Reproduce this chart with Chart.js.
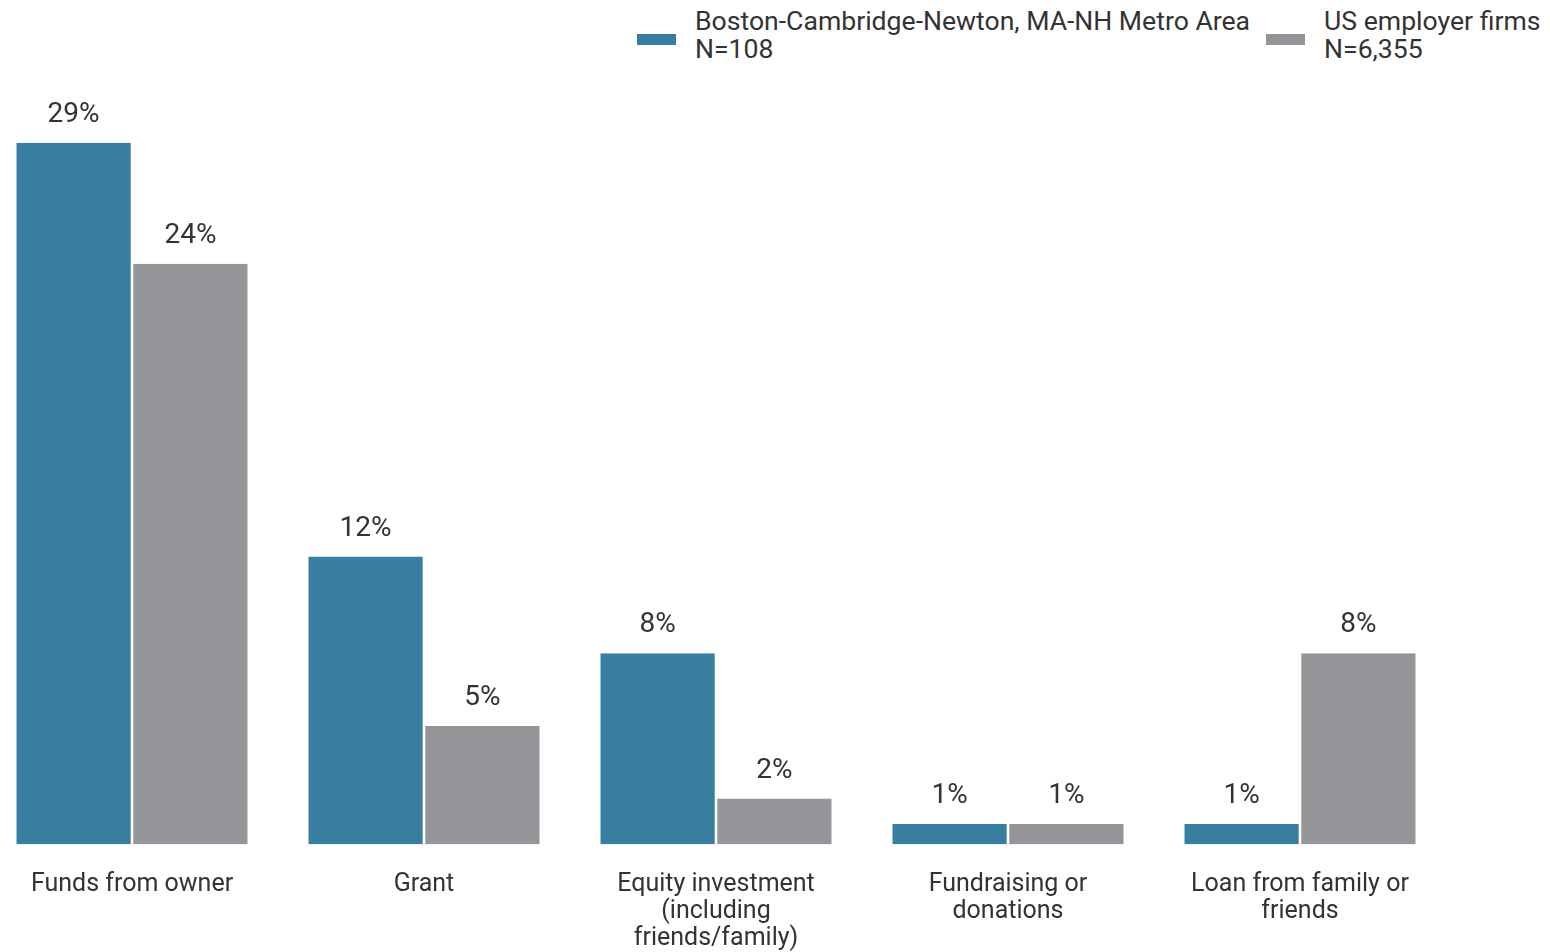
<!DOCTYPE html>
<html>
<head>
<meta charset="utf-8">
<script src="https://cdn.jsdelivr.net/npm/chart.js@4.4.1/dist/chart.umd.min.js"></script>
<style>
    html, body { margin: 0; padding: 0; background: #fff; overflow: hidden; }
    body { width: 1550px; height: 952px; position: relative; font-family: Roboto, sans-serif; color: #333; }
    #chart-wrap { position: absolute; left: -14px; top: 0; width: 1564px; height: 982px; }
    #legend { position: absolute; top: 7px; left: 637px; display: flex; font-size: 26.6px; line-height: 28px; white-space: nowrap; }
    .legend-item { display: flex; align-items: center; margin-right: 16px; }
    .legend-swatch { width: 39px; height: 11px; margin-right: 19px; margin-top: 8px; }
</style>
</head>
<body>
<div id="legend"></div>
<div id="chart-wrap"><canvas id="bar-chart"></canvas></div>
<script>
// Data
const arrCategories = [
    'Funds from owner',
    'Grant',
    ['Equity investment', '(including', 'friends/family)'],
    ['Fundraising or', 'donations'],
    ['Loan from family or', 'friends']
];
const arrBoston = [29, 11.9, 7.9, 0.85, 0.85];
const arrUS = [24, 4.9, 1.9, 0.85, 7.9];
const arrSeriesNames = ['Boston-Cambridge-Newton, MA-NH Metro Area', 'US employer firms'];
const arrSeriesN = ['N=108', 'N=6,355'];
const arrColors = ['#387ea1', '#949599'];

// Build the HTML legend (two-line labels)
const domLegend = document.getElementById('legend');
arrSeriesNames.forEach((strName, i) => {
    domLegend.innerHTML += `
        <div class="legend-item">
            <div class="legend-swatch" style="background:${arrColors[i]}"></div>
            <div>${strName}<br>${arrSeriesN[i]}</div>
        </div>
    `;
});

/** Draws the rounded percentage above each bar */
const barLabels = {
    id: 'barLabels',
    afterDatasetsDraw(chart) {
        const ctx = chart.ctx;
        ctx.save();
        ctx.font = '28px Roboto';
        ctx.fillStyle = '#333';
        ctx.textAlign = 'center';
        ctx.textBaseline = 'middle';
        chart.data.datasets.forEach((ds, i) => {
            chart.getDatasetMeta(i).data.forEach((bar, j) => {
                ctx.fillText(Math.round(ds.data[j]) + '%', bar.x, bar.y - 28);
            });
        });
        ctx.restore();
    }
};

const ctx = document.getElementById('bar-chart').getContext('2d');
new Chart(ctx, {
    type: 'bar',
    data: {
        labels: arrCategories,
        datasets: [arrBoston, arrUS].map((arr, i) => ({
            label: arrSeriesNames[i],
            data: arr,
            backgroundColor: arrColors[i],
            borderColor: '#fff',
            borderWidth: { left: 1.3, right: 1.3, top: 0, bottom: 0 },
            borderSkipped: 'start',
            categoryPercentage: 0.8,
            barPercentage: 1
        }))
    },
    options: {
        responsive: true,
        maintainAspectRatio: false,
        animation: false,
        layout: { padding: { top: 118.5, left: 0, right: 104, bottom: 2.5 } },
        plugins: {
            legend: { display: false },
            tooltip: { enabled: false }
        },
        scales: {
            x: {
                grid: { display: false, drawTicks: false },
                border: { display: false },
                ticks: {
                    padding: 27,
                    maxRotation: 0,
                    autoSkip: false,
                    color: '#333',
                    font: { family: 'Roboto', size: 25, lineHeight: '27px' }
                }
            },
            y: {
                display: false,
                min: 0,
                max: 30
            }
        }
    },
    plugins: [barLabels]
});
</script>
</body>
</html>
